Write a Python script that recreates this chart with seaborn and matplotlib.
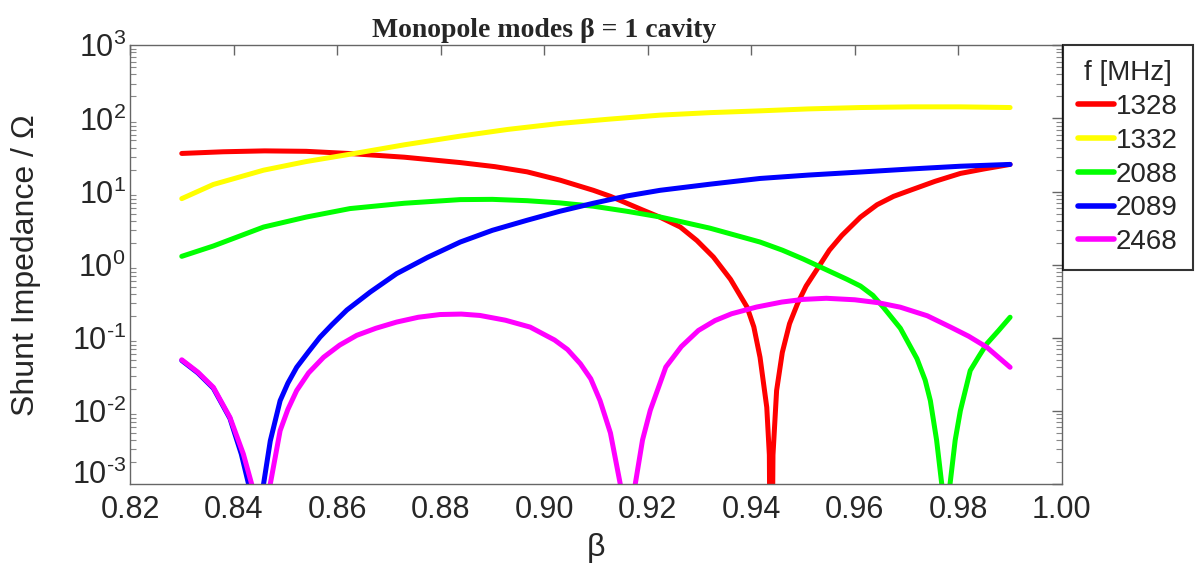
import matplotlib
matplotlib.use("Agg")
import matplotlib.pyplot as plt
import matplotlib.transforms as mtransforms
import numpy as np
import pandas as pd
import seaborn as sns
from matplotlib.ticker import FixedLocator, FuncFormatter, LogLocator, NullFormatter

# value used where a mode's shunt impedance passes through zero
NULL = 1e-6

freqs = ["1328", "1332", "2088", "2089", "2468"]
colors = ["#ff0000", "#ffff00", "#00ff00", "#0000ff", "#ff00ff"]

beta_1328 = [0.830, 0.838, 0.846, 0.854, 0.8625, 0.873, 0.8838, 0.8905, 0.8967, 0.9031,
             0.9095, 0.9128, 0.916, 0.919, 0.9224, 0.9263, 0.9295, 0.9327, 0.936, 0.9392,
             0.9405, 0.9417, 0.9430, 0.9435, 0.9438, 0.9442, 0.9449, 0.946, 0.9474, 0.949,
             0.9506, 0.953, 0.9551, 0.9575, 0.9611, 0.9643, 0.9675, 0.9707, 0.9755, 0.9804,
             0.985, 0.990]
z_1328 = [33.2, 35.0, 36.0, 35.5, 33.1, 29.5, 24.9, 21.9, 18.6, 14.3,
          10.4, 8.6, 6.9, 5.6, 4.45, 3.27, 2.14, 1.27, 0.63, 0.262,
          0.141, 0.054, 0.0112, 0.0025, NULL, 0.0025, 0.019, 0.063, 0.156, 0.30,
          0.51, 0.93, 1.58, 2.51, 4.47, 6.6, 8.6, 10.4, 13.8, 17.7,
          20.4, 23.5]

beta_1332 = [0.830, 0.8361, 0.8458, 0.854, 0.8625, 0.873, 0.8838, 0.893, 0.9031, 0.9125,
             0.9224, 0.932, 0.9417, 0.951, 0.9611, 0.971, 0.9804, 0.990]
z_1332 = [8.0, 12.5, 19.6, 25.7, 32.4, 43.6, 57.3, 70.8, 85.5, 97.7,
          111.0, 120.0, 127.0, 135.0, 141.0, 144.0, 144.0, 141.0]

beta_2088 = [0.830, 0.8361, 0.8458, 0.854, 0.8625, 0.873, 0.8838, 0.890, 0.8967, 0.903,
             0.9095, 0.916, 0.9224, 0.932, 0.9417, 0.946, 0.9501, 0.9555, 0.9585, 0.9611,
             0.9635, 0.9656, 0.9688, 0.972, 0.9736, 0.9746, 0.9758, 0.9768, 0.9776, 0.9784,
             0.9794, 0.9804, 0.9823, 0.984, 0.9855, 0.9878, 0.990]
z_2088 = [1.30, 1.80, 3.27, 4.47, 5.85, 6.92, 7.76, 7.82, 7.50, 7.0,
          6.3, 5.37, 4.49, 3.16, 2.04, 1.58, 1.19, 0.79, 0.63, 0.51,
          0.38, 0.257, 0.135, 0.052, 0.0263, 0.0138, 0.0040, 0.0010, NULL, 0.0010,
          0.0040, 0.0101, 0.0356, 0.0562, 0.0828, 0.126, 0.191]

beta_2089 = [0.830, 0.8331, 0.8361, 0.8393, 0.8415, 0.8429, 0.8443, 0.8458, 0.8471, 0.849,
             0.8505, 0.8522, 0.8545, 0.8567, 0.859, 0.8619, 0.8664, 0.8715, 0.8775, 0.8838,
             0.890, 0.8967, 0.903, 0.9095, 0.916, 0.9224, 0.932, 0.9417, 0.951, 0.9611,
             0.971, 0.9804, 0.990]
z_2089 = [0.0489, 0.0331, 0.0204, 0.0079, 0.00257, 0.0010, NULL, 0.0010, 0.00389, 0.0138,
          0.0240, 0.0395, 0.0646, 0.102, 0.151, 0.240, 0.422, 0.753, 1.26, 2.04,
          2.95, 4.05, 5.37, 6.92, 8.71, 10.4, 12.6, 15.1, 16.8, 18.5,
          20.4, 22.2, 23.5]

beta_2468 = [0.830, 0.8331, 0.8361, 0.8393, 0.8419, 0.8435, 0.8453, 0.8471, 0.849, 0.8505,
             0.8522, 0.8545, 0.8574, 0.8605, 0.8638, 0.8675, 0.8715, 0.8757, 0.8799, 0.884,
             0.8876, 0.8925, 0.8973, 0.902, 0.9045, 0.9070, 0.9090, 0.9108, 0.9128, 0.9147,
             0.9162, 0.9176, 0.919, 0.9205, 0.9235, 0.9265, 0.9298, 0.933, 0.9362, 0.941,
             0.9459, 0.950, 0.9545, 0.960, 0.9645, 0.9688, 0.974, 0.9785, 0.982, 0.9855,
             0.990]
z_2468 = [0.050, 0.0339, 0.0210, 0.00817, 0.00257, 0.0010, NULL, 0.0010, 0.00537, 0.0105,
          0.0190, 0.0331, 0.0542, 0.0794, 0.108, 0.135, 0.164, 0.191, 0.208, 0.211,
          0.202, 0.174, 0.140, 0.0933, 0.0692, 0.0441, 0.0275, 0.0138, 0.0050, 0.0010,
          NULL, 0.0010, 0.0040, 0.0102, 0.0398, 0.0759, 0.126, 0.172, 0.213, 0.263,
          0.308, 0.335, 0.347, 0.331, 0.302, 0.262, 0.200, 0.140, 0.105, 0.0743,
          0.0395]

x_ticks = [0.82, 0.84, 0.86, 0.88, 0.90, 0.92, 0.94, 0.96, 0.98, 1.00]
y_ticks = [1e-3, 1e-2, 1e-1, 1e0, 1e1, 1e2, 1e3]

series = [(freqs[0], beta_1328, z_1328), (freqs[1], beta_1332, z_1332),
          (freqs[2], beta_2088, z_2088), (freqs[3], beta_2089, z_2089),
          (freqs[4], beta_2468, z_2468)]
df = pd.concat([pd.DataFrame({"beta": b, "Z": z, "f [MHz]": f}) for f, b, z in series],
               ignore_index=True)

sns.set_style("white")
plt.rcParams["font.family"] = ["Liberation Sans", "DejaVu Sans"]
plt.rcParams["mathtext.fontset"] = "custom"
plt.rcParams["mathtext.rm"] = "Liberation Sans"
plt.rcParams["mathtext.it"] = "Liberation Sans:italic"
plt.rcParams["mathtext.bf"] = "Liberation Sans:bold"

fig = plt.figure(figsize=(11.97, 5.63), dpi=100)
ax = fig.add_axes([0.1086, 0.1403, 0.7785, 0.7792])

sns.lineplot(data=df, x="beta", y="Z", hue="f [MHz]", hue_order=freqs,
             palette=colors, linewidth=3.6, estimator=None, sort=False, ax=ax)
for ln in ax.get_lines():
    ln.set_solid_joinstyle("round")

ax.set_yscale("log")
ax.set_xlim(0.82, 1.00)
ax.set_ylim(1e-3, 1e3)


def decade_label(v, pos):
    e = int(round(np.log10(v)))
    if e < 0:
        return r"$\mathregular{10^{\text{-}%d}}$" % (-e)
    return r"$\mathregular{10^{%d}}$" % e


ax.xaxis.set_major_locator(FixedLocator(x_ticks))
ax.xaxis.set_major_formatter(FuncFormatter(lambda v, p: f"{v:.2f}"))
ax.yaxis.set_major_locator(FixedLocator(y_ticks))
ax.yaxis.set_major_formatter(FuncFormatter(decade_label))
ax.yaxis.set_minor_locator(LogLocator(base=10, subs=np.arange(2, 10)))
ax.yaxis.set_minor_formatter(NullFormatter())

spine_col = "#666666"
for s in ax.spines.values():
    s.set_color(spine_col)
    s.set_linewidth(1.0)
    s.set_visible(True)

ax.tick_params(axis="both", which="major", direction="in", length=7, width=1,
               color=spine_col, labelsize=22, top=True, right=True)
ax.tick_params(axis="x", which="major", pad=8)
ax.tick_params(axis="y", which="major", pad=3)
ax.tick_params(axis="y", which="minor", direction="in", length=4, width=0.8,
               color="#888888", left=True, right=True)

ax.set_xlabel("β", fontsize=23, labelpad=6)
ax.set_ylabel("Shunt Impedance / Ω", fontsize=23, labelpad=22)
ax.set_title("Monopole modes β = 1 cavity", fontsize=20, fontweight="bold",
             family=["Liberation Serif", "DejaVu Serif"], x=0.444, pad=6)

# lift the lowest decade label clear of the first beta label
bottom_tick = ax.yaxis.get_major_ticks()[0]
bottom_tick.label1.set_transform(
    bottom_tick.label1.get_transform()
    + mtransforms.ScaledTranslation(0, 9 / 72, fig.dpi_scale_trans))

handles, labels = ax.get_legend_handles_labels()
leg = ax.legend(handles, labels, title="f [MHz]", loc="upper left",
                bbox_to_anchor=(0.888, 0.92), bbox_transform=fig.transFigure,
                borderaxespad=0, fontsize=20, title_fontsize=20,
                handlelength=1.3, handletextpad=0.05, labelspacing=0.28,
                borderpad=0.55, frameon=True, fancybox=False)
leg.get_frame().set_edgecolor("black")
leg.get_frame().set_linewidth(1.5)
for h in leg.get_lines():
    h.set_linewidth(4.0)

fig.savefig("out.png", dpi=100)
